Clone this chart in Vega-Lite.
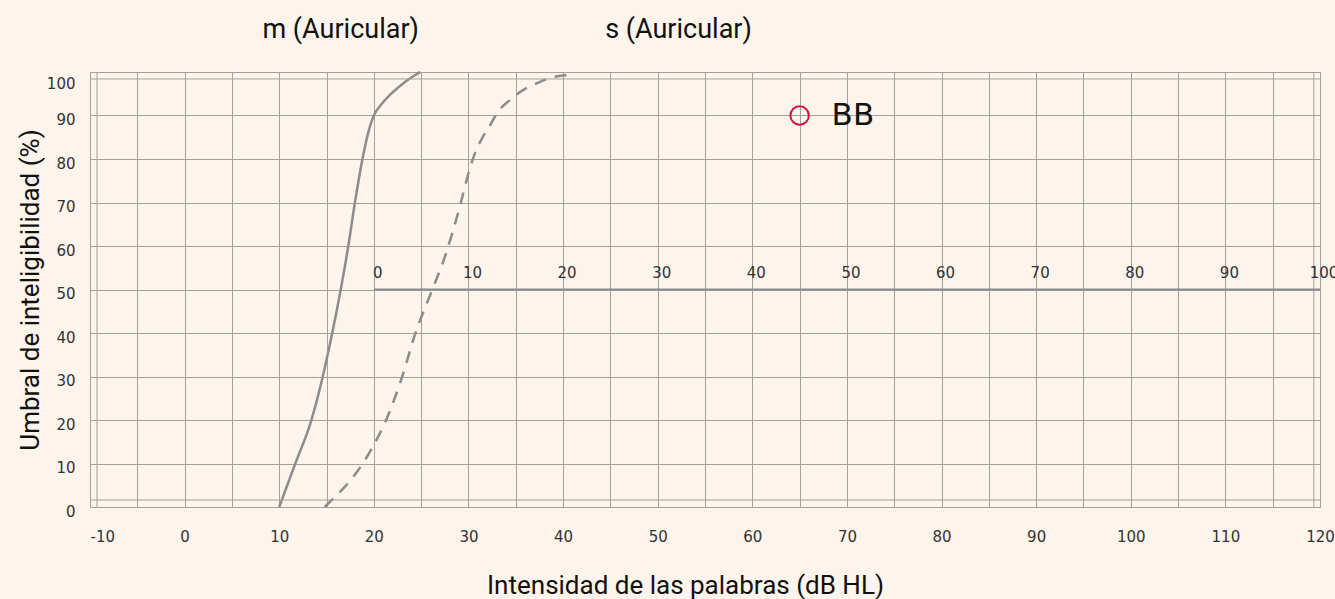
{
  "$schema": "https://vega.github.io/schema/vega-lite/v6.json",
  "width": 1230,
  "height": 435,
  "autosize": {"type": "none"},
  "padding": {"left": 90, "top": 72, "right": 15, "bottom": 92},
  "background": "#fdf4ec",
  "config": {
    "view": {"stroke": "#a09d9a", "strokeWidth": 1},
    "axis": {"gridColor": "#a3a09d", "gridOpacity": 1, "gridWidth": 1}
  },
  "datasets": {
    "curves": [
      {"series": "m", "x": 10, "y": 0},
      {"series": "m", "x": 11.7, "y": 10},
      {"series": "m", "x": 13.4, "y": 20},
      {"series": "m", "x": 14.6, "y": 30},
      {"series": "m", "x": 15.6, "y": 40},
      {"series": "m", "x": 16.5, "y": 50},
      {"series": "m", "x": 17.3, "y": 60},
      {"series": "m", "x": 18.0, "y": 70},
      {"series": "m", "x": 18.8, "y": 80},
      {"series": "m", "x": 19.4, "y": 86},
      {"series": "m", "x": 20.0, "y": 90},
      {"series": "m", "x": 20.7, "y": 92.3},
      {"series": "m", "x": 21.5, "y": 94.3},
      {"series": "m", "x": 22.5, "y": 96.3},
      {"series": "m", "x": 23.6, "y": 98.2},
      {"series": "m", "x": 24.9, "y": 100},
      {"series": "s", "x": 14.8, "y": 0},
      {"series": "s", "x": 19.8, "y": 13.5},
      {"series": "s", "x": 21.3, "y": 20},
      {"series": "s", "x": 23.0, "y": 30},
      {"series": "s", "x": 24.4, "y": 40},
      {"series": "s", "x": 26.0, "y": 49},
      {"series": "s", "x": 27.5, "y": 57.5},
      {"series": "s", "x": 28.3, "y": 63},
      {"series": "s", "x": 29.2, "y": 70},
      {"series": "s", "x": 30.1, "y": 77.5},
      {"series": "s", "x": 30.7, "y": 81.4},
      {"series": "s", "x": 31.5, "y": 85},
      {"series": "s", "x": 32.3, "y": 87.8},
      {"series": "s", "x": 33.0, "y": 90.5},
      {"series": "s", "x": 34.4, "y": 93.6},
      {"series": "s", "x": 35.8, "y": 95.9},
      {"series": "s", "x": 37.2, "y": 97.4},
      {"series": "s", "x": 38.6, "y": 98.6},
      {"series": "s", "x": 40.0, "y": 99.2},
      {"series": "s", "x": 41.0, "y": 99.3}
    ],
    "innerV": [{"x": -9.26}, {"x": 119.35}],
    "innerH": [{"y": 1.6}, {"y": 98.4}],
    "ruler": [{"x": 20, "x2": 120, "y": 50}],
    "rulerLabels": [
      {"pos": 20, "label": "0", "y": 50},
      {"pos": 30, "label": "10", "y": 50},
      {"pos": 40, "label": "20", "y": 50},
      {"pos": 50, "label": "30", "y": 50},
      {"pos": 60, "label": "40", "y": 50},
      {"pos": 70, "label": "50", "y": 50},
      {"pos": 80, "label": "60", "y": 50},
      {"pos": 90, "label": "70", "y": 50},
      {"pos": 100, "label": "80", "y": 50},
      {"pos": 110, "label": "90", "y": 50},
      {"pos": 120, "label": "100", "y": 50}
    ],
    "marker": [{"x": 65, "y": 90, "label": "BB"}],
    "heads": [
      {"x": 16.5, "y": 109.7, "label": "m (Auricular)"},
      {"x": 52.2, "y": 109.7, "label": "s (Auricular)"}
    ]
  },
  "layer": [
    {
      "data": {"name": "curves"},
      "mark": {"type": "line", "interpolate": "monotone", "color": "#8c8c8c", "strokeWidth": 2.5},
      "encoding": {
        "x": {
          "field": "x", "type": "quantitative",
          "scale": {"domain": [-10, 120], "nice": false, "zero": false},
          "axis": {
            "values": [-10,-5,0,5,10,15,20,25,30,35,40,45,50,55,60,65,70,75,80,85,90,95,100,105,110,115,120],
            "labelExpr": "datum.value % 10 == 0 ? '' + datum.value : ''",
            "labelOverlap": false,
            "grid": true, "ticks": false, "domain": false,
            "labelFont": "DejaVu Sans", "labelFontSize": 15, "labelColor": "#333333",
            "labelPadding": 22,
            "labelAlign": {"condition": {"test": "datum.value == -10", "value": "left"}, "value": "center"},
            "title": "Intensidad de las palabras (dB HL)",
            "titleFont": "Roboto", "titleFontSize": 26, "titleFontWeight": "normal", "titleColor": "#111111",
            "titlePadding": 28, "titleX": 595
          }
        },
        "y": {
          "field": "y", "type": "quantitative",
          "scale": {"domain": [0, 100], "nice": false},
          "axis": {
            "values": [0,10,20,30,40,50,60,70,80,90,100],
            "grid": true, "ticks": false, "domain": false,
            "labelFont": "DejaVu Sans", "labelFontSize": 15, "labelColor": "#333333",
            "labelPadding": 15, "labelOffset": 4,
            "labelBaseline": {"condition": {"test": "datum.value == 100", "value": "top"}, "value": "middle"},
            "title": "Umbral de inteligibilidad (%)",
            "titleFont": "Roboto", "titleFontSize": 26, "titleFontWeight": "normal", "titleColor": "#111111",
            "titlePadding": 3
          }
        },
        "strokeDash": {
          "field": "series", "type": "nominal",
          "scale": {"domain": ["m", "s"], "range": [[1, 0], [12, 9]]},
          "legend": null
        },
        "detail": {"field": "series"}
      }
    },
    {
      "data": {"name": "innerV"},
      "mark": {"type": "rule", "color": "#a3a09d", "strokeWidth": 1},
      "encoding": {"x": {"field": "x", "type": "quantitative"}}
    },
    {
      "data": {"name": "innerH"},
      "mark": {"type": "rule", "color": "#a3a09d", "strokeWidth": 1},
      "encoding": {"y": {"field": "y", "type": "quantitative"}}
    },
    {
      "data": {"name": "ruler"},
      "mark": {"type": "rule", "color": "#8c8c8c", "strokeWidth": 2},
      "encoding": {
        "x": {"field": "x", "type": "quantitative"},
        "x2": {"field": "x2"},
        "y": {"field": "y", "type": "quantitative"}
      }
    },
    {
      "data": {"name": "rulerLabels"},
      "mark": {"type": "text", "font": "DejaVu Sans", "fontSize": 15, "color": "#333333", "align": "center", "baseline": "middle", "dx": 4, "dy": -17},
      "encoding": {
        "x": {"field": "pos", "type": "quantitative"},
        "y": {"field": "y", "type": "quantitative"},
        "text": {"field": "label"}
      }
    },
    {
      "data": {"name": "marker"},
      "mark": {"type": "point", "shape": "circle", "filled": false, "stroke": "#d0163e", "strokeWidth": 2, "size": 340, "opacity": 1},
      "encoding": {
        "x": {"field": "x", "type": "quantitative"},
        "y": {"field": "y", "type": "quantitative"}
      }
    },
    {
      "data": {"name": "marker"},
      "mark": {"type": "text", "font": "DejaVu Sans", "fontSize": 31, "color": "#111111", "align": "left", "baseline": "middle", "dx": 32},
      "encoding": {
        "x": {"field": "x", "type": "quantitative"},
        "y": {"field": "y", "type": "quantitative"},
        "text": {"field": "label"}
      }
    },
    {
      "data": {"name": "heads"},
      "mark": {"type": "text", "font": "Roboto", "fontSize": 27, "color": "#111111", "align": "center", "baseline": "middle", "clip": false},
      "encoding": {
        "x": {"field": "x", "type": "quantitative"},
        "y": {"field": "y", "type": "quantitative"},
        "text": {"field": "label"}
      }
    }
  ]
}
